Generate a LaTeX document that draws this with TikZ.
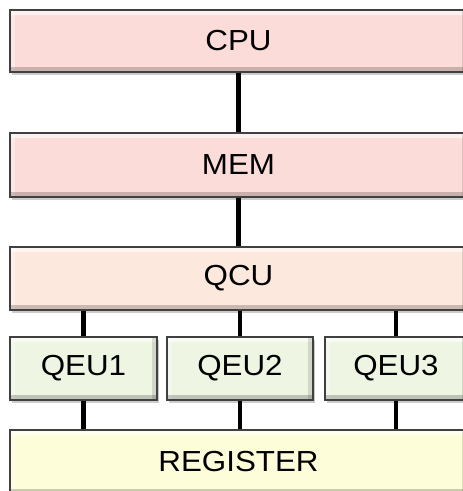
\documentclass[tikz,border=0pt]{standalone}
\usepackage{fontspec}
\setmainfont{Liberation Sans}[FakeStretch=1.08]
\usetikzlibrary{shadows}

\definecolor{cpupink}{HTML}{FCDCD9}
\definecolor{qcupeach}{HTML}{FCE8DC}
\definecolor{qeugreen}{HTML}{EEF5E3}
\definecolor{regyellow}{HTML}{FDFDD9}

\tikzset{
    unit/.style={draw=black!75, line width=1.2pt, minimum height=63pt, inner sep=0pt,
        font=\fontsize{29}{33}\selectfont,
        drop shadow={opacity=0.4, shadow xshift=2pt, shadow yshift=-3pt},
        path picture={
            \fill[white, opacity=0.6] (path picture bounding box.north west) rectangle ([yshift=-5pt]path picture bounding box.north east);
            \fill[white, opacity=0.35] (path picture bounding box.north west) rectangle ([xshift=5pt]path picture bounding box.south west);
            \fill[black, opacity=0.2] (path picture bounding box.south west) rectangle ([yshift=5pt]path picture bounding box.south east);
            \fill[black, opacity=0.12] (path picture bounding box.north east) rectangle ([xshift=-5pt]path picture bounding box.south east);
        }},
    bus/.style={line width=4.5pt}
}

\begin{document}
\begin{tikzpicture}[x=1pt, y=-1pt]
    \clip (0, 0) rectangle (463, 491);

    \node [unit, fill=cpupink, minimum width=457pt, minimum height=62pt] (cpu) at (238.5, 41) {CPU};
    \node [unit, fill=cpupink, minimum width=457pt, minimum height=64pt] (mem) at (238.5, 165) {MEM};
    \node [unit, fill=qcupeach, minimum width=457pt] (qcu) at (238.5, 278.5) {QCU};

    \node [unit, fill=qeugreen, minimum width=147pt] (qeu1) at (83.5, 368.5) {QEU1};
    \node [unit, fill=qeugreen, minimum width=146pt] (qeu2) at (240, 368.5) {QEU2};
    \node [unit, fill=qeugreen, minimum width=142pt] (qeu3) at (396, 368.5) {QEU3};

    \node [unit, fill=regyellow, minimum width=457pt, minimum height=64pt] (reg) at (238.5, 462) {REGISTER};

    \draw [bus] (cpu.south) -- (mem.north);
    \draw [bus] (mem.south) -- (qcu.north);
    \foreach \q in {qeu1, qeu2, qeu3} {
        \draw [bus] (\q.north |- qcu.south) -- (\q.north);
        \draw [bus] (\q.south) -- (\q.south |- reg.north);
    }
\end{tikzpicture}
\end{document}
